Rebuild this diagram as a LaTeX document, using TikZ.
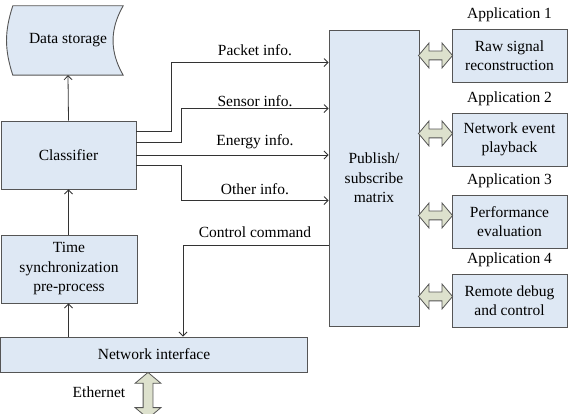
\documentclass[tikz,border=0pt]{standalone}
\usepackage{fontspec}
\setmainfont{Liberation Serif}
\usetikzlibrary{shapes.arrows,positioning,calc,backgrounds,arrows.meta}
\definecolor{boxblue}{RGB}{222,232,244}
\definecolor{arrowolive}{RGB}{221,225,205}
\definecolor{edgegray}{RGB}{85,85,85}

\begin{document}
\begin{tikzpicture}[x=1pt, y=-1pt,
    every node/.style={font=\rmfamily\fontsize{15.5}{19.5}\selectfont},
    blockbox/.style={draw=edgegray, line width=0.9pt, fill=boxblue, align=center, inner sep=0pt},
    flow/.style={-{Straight Barb[length=4pt,width=8pt]}, draw=black!80, line width=0.8pt},
    bigarrow/.style={double arrow, draw=edgegray, line width=0.8pt, fill=arrowolive,
        double arrow head extend=8pt, double arrow tip angle=100,
        inner xsep=0pt, inner ysep=4pt, minimum width=0pt}]
    \clip (0,0) rectangle (571,414);

    % left column
    \node[minimum width=110pt, minimum height=69pt] (store) at (68,40.5) {Data storage};
    \begin{scope}[on background layer]
        \draw[draw=edgegray, line width=0.9pt, fill=boxblue] (store.north west) -- (store.north east)
            to[bend right=30] (store.south east) -- (store.south west)
            to[bend left=18] (store.north west) -- cycle;
    \end{scope}
    \node[blockbox, minimum width=135pt, minimum height=68pt] (cls) at (68.5,155) {Classifier};
    \node[blockbox, minimum width=136pt, minimum height=68pt] (sync) at (69,269) {Time\\synchronization\\pre-process};
    \node[blockbox, minimum width=307pt, minimum height=35pt] (net) at (154,354.5) {Network interface};

    % matrix and applications
    \node[blockbox, minimum width=90pt, minimum height=296pt] (mat) at (374,178) {Publish/\\subscribe\\matrix};
    \node[blockbox, minimum width=115pt, minimum height=53pt] (a1) at (509.5,55.5) {Raw signal\\reconstruction};
    \node[blockbox, minimum width=115pt, minimum height=53pt] (a2) at (509.5,139.5) {Network event\\playback};
    \node[blockbox, minimum width=115pt, minimum height=53pt] (a3) at (509.5,221.5) {Performance\\evaluation};
    \node[blockbox, minimum width=115pt, minimum height=53pt] (a4) at (509.5,300.5) {Remote debug\\and control};
    \node[above=3pt of a1] (a1lbl) {Application 1};
    \node[above=3pt of a2] (a2lbl) {Application 2};
    \node[above=3pt of a3] (a3lbl) {Application 3};
    \node[above=3pt of a4] (a4lbl) {Application 4};

    \node[bigarrow, minimum height=34pt] (d1) at ($(mat.east |- a1.west)!0.5!(a1.west)$) {};
    \node[bigarrow, minimum height=34pt] (d2) at ($(mat.east |- a2.west)!0.5!(a2.west)+(0,-6)$) {};
    \node[bigarrow, minimum height=34pt] (d3) at ($(mat.east |- a3.west)!0.5!(a3.west)+(0,-6)$) {};
    \node[bigarrow, minimum height=34pt] (d4) at ($(mat.east |- a4.west)!0.5!(a4.west)+(0,-4)$) {};

    % vertical flow
    \draw[flow] (cls.north) -- (store.south);
    \draw[flow] (sync.north -| cls.north) -- (cls.south);
    \draw[flow] (net.north -| cls.north) -- (sync.south -| cls.north);

    % info lines
    \draw[flow] ([yshift=-11pt]cls.north east) -- ++(35,0) |- ([yshift=-33pt]mat.north west);
    \draw[flow] ([yshift=-22pt]cls.north east) -- ++(45,0) |- ([yshift=-79pt]mat.north west);
    \draw[flow] (cls.east) -- (cls.east -| mat.west);
    \draw[flow] ([yshift=-45pt]cls.north east) -- ++(45,0) |- ([yshift=-171pt]mat.north west);
    \draw[flow] ([yshift=-216pt]mat.north west) -| ([xshift=29pt]net.north);

    \node (pkt) at (255,50) {Packet info.};
    \node (sen) at (255,101) {Sensor info.};
    \node (eng) at (255,142) {Energy info.};
    \node (oth) at (255,189) {Other info.};
    \node (ctl) at (255,232) {Control command};

    % ethernet
    \node[bigarrow, rotate=90, minimum height=46pt, inner ysep=4.5pt] (eth) at ($(net.south)+(-6,23)$) {};
    \node (ethlbl) at (99,392) {Ethernet};
\end{tikzpicture}
\end{document}
